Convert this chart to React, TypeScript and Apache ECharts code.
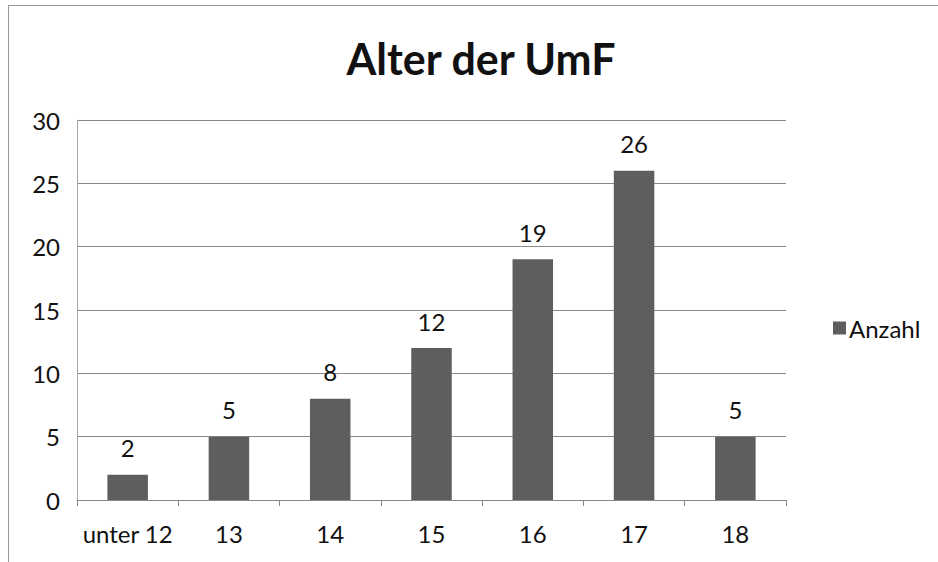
import React, { useEffect, useRef } from "react";
import * as echarts from "echarts";

const categories = ["unter 12", "13", "14", "15", "16", "17", "18"];
const counts = [2, 5, 8, 12, 19, 26, 5];
const seriesName = "Anzahl";
const titleText = "Alter der UmF";

export default function App() {
  const ref = useRef<HTMLDivElement>(null);
  useEffect(() => {
    const chart = echarts.init(ref.current!, null, { renderer: "svg" });
    const font = "Lato, 'Open Sans', sans-serif";
    chart.setOption({
      animation: false,
      backgroundColor: "#ffffff",
      title: {
        text: titleText,
        left: 476,
        textAlign: "center",
        top: 32,
        textStyle: { fontFamily: font, fontWeight: "bold", fontSize: 43, color: "#111" },
      },
      legend: {
        data: [seriesName],
        left: 828,
        top: 311,
        itemWidth: 13,
        itemHeight: 13,
        itemGap: 4,
        icon: "rect",
        textStyle: { fontFamily: font, fontSize: 24, color: "#111", padding: [0, 0, 0, -2] },
      },
      grid: { left: 77, right: 152, top: 120, bottom: 62, containLabel: false },
      xAxis: {
        type: "category",
        data: categories,
        axisLine: { lineStyle: { color: "#888", width: 1 } },
        axisTick: { show: true, length: 6, lineStyle: { color: "#888" } },
        axisLabel: { fontFamily: font, fontSize: 24, color: "#111", margin: 21, interval: 0 },
      },
      yAxis: {
        type: "value",
        min: 0,
        max: 30,
        interval: 5,
        axisLine: { show: true, lineStyle: { color: "#aaa", width: 1 } },
        axisTick: { show: false },
        splitLine: { lineStyle: { color: "#8a8a8a", width: 1 } },
        axisLabel: { fontFamily: font, fontSize: 24, color: "#111", margin: 17 },
      },
      series: [
        {
          name: seriesName,
          type: "bar",
          data: counts,
          barWidth: "40%",
          itemStyle: { color: "#5e5e5e" },
          label: {
            show: true,
            position: "top",
            distance: 15,
            fontFamily: font,
            fontSize: 24,
            color: "#111",
          },
        },
      ],
      graphic: [
        { type: "line", shape: { x1: 8, y1: 5.5, x2: 938, y2: 5.5 }, style: { stroke: "#999", lineWidth: 1 } },
        { type: "line", shape: { x1: 8.5, y1: 5, x2: 8.5, y2: 562 }, style: { stroke: "#999", lineWidth: 1 } },
      ],
    });
    return () => chart.dispose();
  }, []);
  return (
    <div
      ref={ref}
      style={{ position: "absolute", left: 0, top: 0, width: 938, height: 562 }}
    />
  );
}
